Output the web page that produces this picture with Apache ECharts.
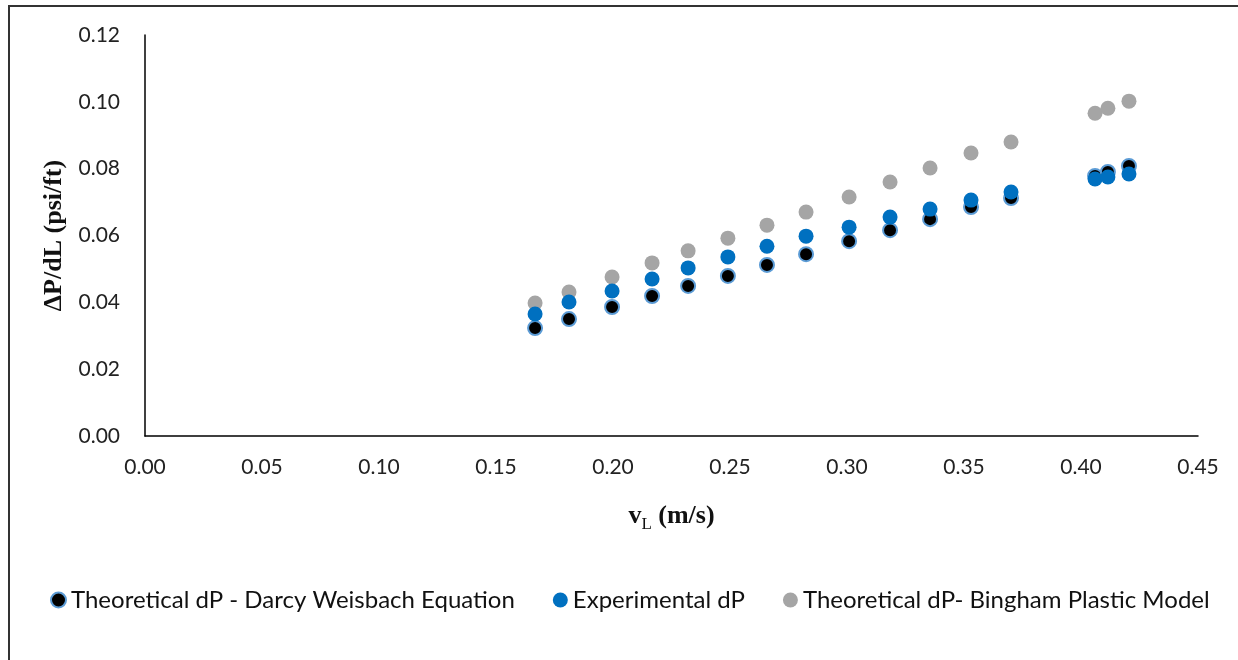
<!DOCTYPE html>
<html>
<head>
<meta charset="utf-8">
<script src="https://cdn.jsdelivr.net/npm/echarts@6/dist/echarts.min.js"></script>
<style>
  html, body { margin: 0; padding: 0; background: #fff; }
  #chart { width: 1238px; height: 660px; }
  #frame { position: absolute; left: 8px; top: 5px; width: 1240px; height: 670px;
           border-top: 2px solid #333; border-left: 2px solid #333; pointer-events: none; }
</style>
</head>
<body>
<div id="chart"></div>
<div id="frame"></div>
<script>
  // 流速 v_L (m/s)
  const velocity = [0.1667, 0.1812, 0.1996, 0.2167, 0.2321, 0.2491, 0.2658, 0.2825,
                    0.3009, 0.3184, 0.3355, 0.3530, 0.3701, 0.4060, 0.4115, 0.4205]
  // Darcy Weisbach 理论值
  const darcyDp = [0.0323, 0.0350, 0.0386, 0.0419, 0.0449, 0.0479, 0.0512, 0.0544,
                   0.0583, 0.0616, 0.0649, 0.0685, 0.0712, 0.0778, 0.0790, 0.0808]
  // 实验值
  const experimentalDp = [0.0365, 0.0401, 0.0434, 0.0470, 0.0503, 0.0536, 0.0568, 0.0598,
                          0.0625, 0.0655, 0.0679, 0.0706, 0.0730, 0.0769, 0.0775, 0.0784]
  // Bingham 塑性模型
  const binghamDp = [0.0398, 0.0431, 0.0476, 0.0518, 0.0554, 0.0592, 0.0631, 0.0670,
                     0.0715, 0.0760, 0.0802, 0.0847, 0.0880, 0.0966, 0.0981, 0.1002]
  const seriesNames = ['Theoretical dP - Darcy Weisbach Equation', 'Experimental dP',
                       'Theoretical dP- Bingham Plastic Model']

  const pair = (ys) => velocity.map((x, i) => [x, ys[i]])

  const chart = echarts.init(document.getElementById('chart'))
  const tickFont = { fontFamily: 'Lato, "Open Sans", sans-serif', fontSize: 21, color: '#222' }

  chart.setOption({
    animation: false,
    grid: { left: 145, right: 40, top: 35, bottom: 224 },
    legend: {
      left: 45,
      top: 583,
      itemGap: 38,
      itemWidth: 15,
      itemHeight: 15,
      textStyle: { fontFamily: 'Lato, "Open Sans", sans-serif', fontSize: 24, color: '#111' },
      data: seriesNames.map(n => ({ name: n, icon: 'circle' }))
    },
    xAxis: {
      type: 'value',
      min: 0, max: 0.45, interval: 0.05,
      axisLine: { show: true, lineStyle: { color: '#000', width: 1.5 } },
      axisTick: { show: false },
      splitLine: { show: false },
      axisLabel: { ...tickFont, margin: 21, formatter: v => v.toFixed(2) },
      name: '{v|v}{sub|L}{v| (m/s)}',
      nameLocation: 'middle',
      nameGap: 64,
      nameTextStyle: {
        rich: {
          v: { fontFamily: '"Liberation Serif", "DejaVu Serif", serif', fontWeight: 'bold', fontSize: 26, color: '#111' },
          sub: { fontFamily: '"Liberation Serif", serif', fontSize: 17, color: '#111', padding: [16, 0, 0, 0] }
        }
      }
    },
    yAxis: {
      type: 'value',
      min: 0, max: 0.12, interval: 0.02,
      axisLine: { show: true, lineStyle: { color: '#000', width: 1.5 } },
      axisTick: { show: false },
      splitLine: { show: false },
      axisLabel: { ...tickFont, margin: 25, formatter: v => v.toFixed(2) },
      name: 'ΔP/dL (psi/ft)',
      nameLocation: 'middle',
      nameGap: 73,
      nameTextStyle: { fontFamily: '"Liberation Serif", serif', fontWeight: 'bold', fontSize: 26, color: '#111' }
    },
    series: [
      {
        name: seriesNames[0], type: 'scatter', symbolSize: 14, z: 2,
        itemStyle: { color: '#000', borderColor: '#5b9bd5', borderWidth: 2, opacity: 1 },
        data: pair(darcyDp)
      },
      {
        name: seriesNames[1], type: 'scatter', symbolSize: 15, z: 3,
        itemStyle: { color: '#0070c0', opacity: 1 },
        data: pair(experimentalDp)
      },
      {
        name: seriesNames[2], type: 'scatter', symbolSize: 15, z: 1,
        itemStyle: { color: '#a5a5a5', opacity: 1 },
        data: pair(binghamDp)
      }
    ]
  })
</script>
</body>
</html>
